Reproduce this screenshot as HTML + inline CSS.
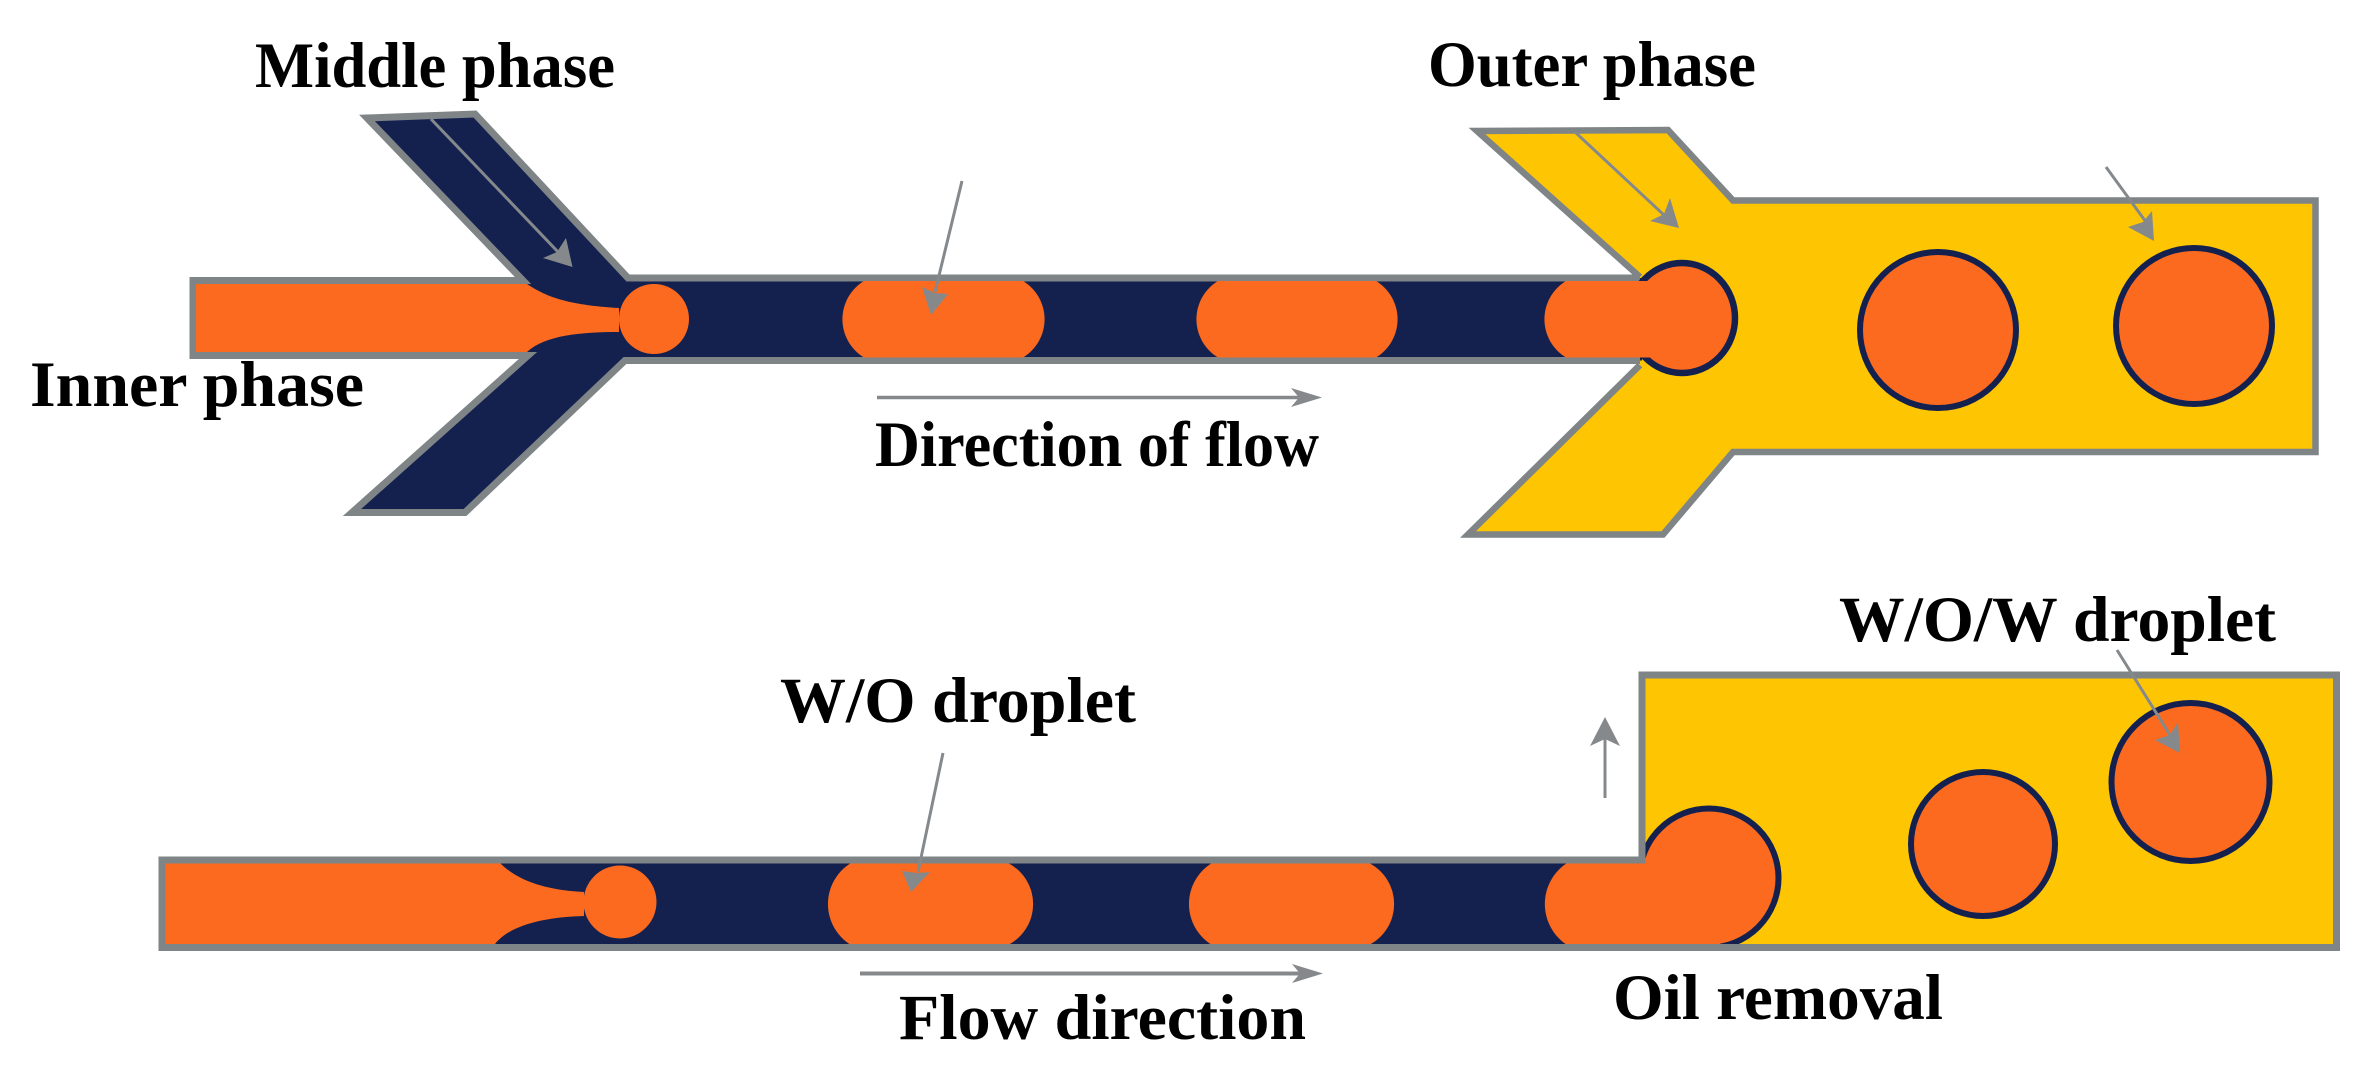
<!DOCTYPE html>
<html>
<head>
<meta charset="utf-8">
<title>Double emulsion microfluidic diagram</title>
<style>
html,body{margin:0;padding:0;background:#fff;width:2367px;height:1070px;overflow:hidden}
svg{display:block}
text{font-family:"Liberation Serif",serif;font-weight:bold;font-size:65px;fill:#000}
</style>
</head>
<body>
<svg width="2367" height="1070" viewBox="0 0 2367 1070" xmlns="http://www.w3.org/2000/svg">
<rect width="2367" height="1070" fill="#fff"/>

<!-- TOP: outer yellow -->
<polyline points="1640,365 1468,534.5 1663,534.5 1733,452 2315.5,452 2315.5,200.5 1733,200.5 1668,130 1477,131 1640,277" fill="#fec503" stroke="#7f8487" stroke-width="6.5" stroke-linejoin="miter"/>

<!-- TOP: navy channel -->
<path d="M192,280 H523 L367,118 L475,114 L628,278 H1642 V360.5 H625 L465,512 H352 L527,356 H192 Z" fill="#14214f"/>
<path d="M1640,278 H628 L475,114 L367,118 L523,280.5 H193 V355.5 H528 L352,512.5 H465 L625,360.5 H1640" fill="none" stroke="#7f8487" stroke-width="7" stroke-linejoin="miter"/>

<!-- TOP: inner orange neck -->
<path d="M196,284 H527 C545,296 566,305 619,308 V332 C582,332 545,335 527,352 H196 Z" fill="#fb6a1f"/>
<circle cx="654" cy="319" r="35" fill="#fb6a1f"/>

<!-- TOP droplets -->
<path d="M864,281 A44.7 44.7 0 0 0 864,357.5 H1023 A44.7 44.7 0 0 0 1023,281 Z" fill="#fb6a1f"/>
<path d="M1218,281 A44.7 44.7 0 0 0 1218,357.5 H1376 A44.7 44.7 0 0 0 1376,281 Z" fill="#fb6a1f"/>

<!-- TOP plug -->
<ellipse cx="1682" cy="318" rx="53" ry="55" fill="#fb6a1f" stroke="#14214f" stroke-width="6.5"/>
<path d="M1566,281 A44.7 44.7 0 0 0 1566,357.5 H1690 V281 Z" fill="#fb6a1f"/>

<!-- TOP big drops -->
<circle cx="1938" cy="330" r="78" fill="#fb6a1f" stroke="#14214f" stroke-width="6"/>
<circle cx="2194" cy="326" r="78" fill="#fb6a1f" stroke="#14214f" stroke-width="6"/>

<!-- BOTTOM -->
<rect x="160" y="860" width="1490" height="87" fill="#14214f"/>
<rect x="1640" y="675" width="696" height="272" fill="#fec503"/>
<path d="M163,863 H500 C515,878 540,890 584,892 V916 C545,917 510,925 495,944 H163 Z" fill="#fb6a1f"/>
<circle cx="620" cy="902" r="36.5" fill="#fb6a1f"/>
<path d="M851,863 A48 48 0 0 0 851,945 H1008 A46 46 0 0 0 1008,863 Z" fill="#fb6a1f"/>
<path d="M1212,863 A48 48 0 0 0 1212,945 H1369 A46 46 0 0 0 1369,863 Z" fill="#fb6a1f"/>
<circle cx="1709" cy="878" r="69.5" fill="#fb6a1f" stroke="#14214f" stroke-width="6"/>
<path d="M1567,863 A49 49 0 0 0 1567,945 H1720 V863 Z" fill="#fb6a1f"/>
<path d="M1642,860 H162 V947.5 H2336.5 V675 H1642 Z" fill="none" stroke="#7f8487" stroke-width="7" stroke-linejoin="miter"/>
<circle cx="1983" cy="844" r="72" fill="#fb6a1f" stroke="#14214f" stroke-width="6"/>
<circle cx="2190.5" cy="782" r="79" fill="#fb6a1f" stroke="#14214f" stroke-width="6"/>

<!-- Arrows -->
<g stroke="#85898c" stroke-width="3" fill="none">
<line x1="431" y1="119" x2="560" y2="254"/>
<line x1="962" y1="181" x2="935" y2="292"/>
<line x1="877" y1="397.5" x2="1300" y2="397.5" stroke-width="3.5"/>
<line x1="1575" y1="132" x2="1665" y2="216"/>
<line x1="2106" y1="167" x2="2146" y2="222"/>
<line x1="943" y1="753" x2="918" y2="872"/>
<line x1="860" y1="973.5" x2="1300" y2="973.5" stroke-width="4"/>
<line x1="1605" y1="798" x2="1605" y2="735"/>
<line x1="2117" y1="650" x2="2170" y2="735"/>
</g>
<g fill="#85898c">
<polygon points="572.5,267 543,258 557,252 566,238"/>
<polygon points="931,315 922,287 935,293 948,294"/>
<polygon points="1322,397.5 1291,388 1299,397.5 1291,407"/>
<polygon points="1679,228 1650,221 1664,214 1670,198"/>
<polygon points="2154,241 2128,227 2143,222 2152,211"/>
<polygon points="911,892 902,871 917,873 930,872"/>
<polygon points="1323,973.5 1292,964 1300,973.5 1292,983"/>
<polygon points="1605,717 1590,746 1605,739 1620,746"/>
<polygon points="2180,753 2155,740 2170,735 2178,722"/>
</g>

<!-- Labels -->
<text x="255" y="87" textLength="360" lengthAdjust="spacingAndGlyphs">Middle phase</text>
<text x="1428" y="86" textLength="328" lengthAdjust="spacingAndGlyphs">Outer phase</text>
<text x="30" y="406" textLength="334" lengthAdjust="spacingAndGlyphs">Inner phase</text>
<text x="875" y="466" textLength="444" lengthAdjust="spacingAndGlyphs">Direction of flow</text>
<text x="780" y="722" textLength="356" lengthAdjust="spacingAndGlyphs">W/O droplet</text>
<text x="899" y="1039" textLength="407" lengthAdjust="spacingAndGlyphs">Flow direction</text>
<text x="1613" y="1019" textLength="330" lengthAdjust="spacingAndGlyphs">Oil removal</text>
<text x="1839" y="641" textLength="437" lengthAdjust="spacingAndGlyphs">W/O/W droplet</text>
</svg>
</body>
</html>
